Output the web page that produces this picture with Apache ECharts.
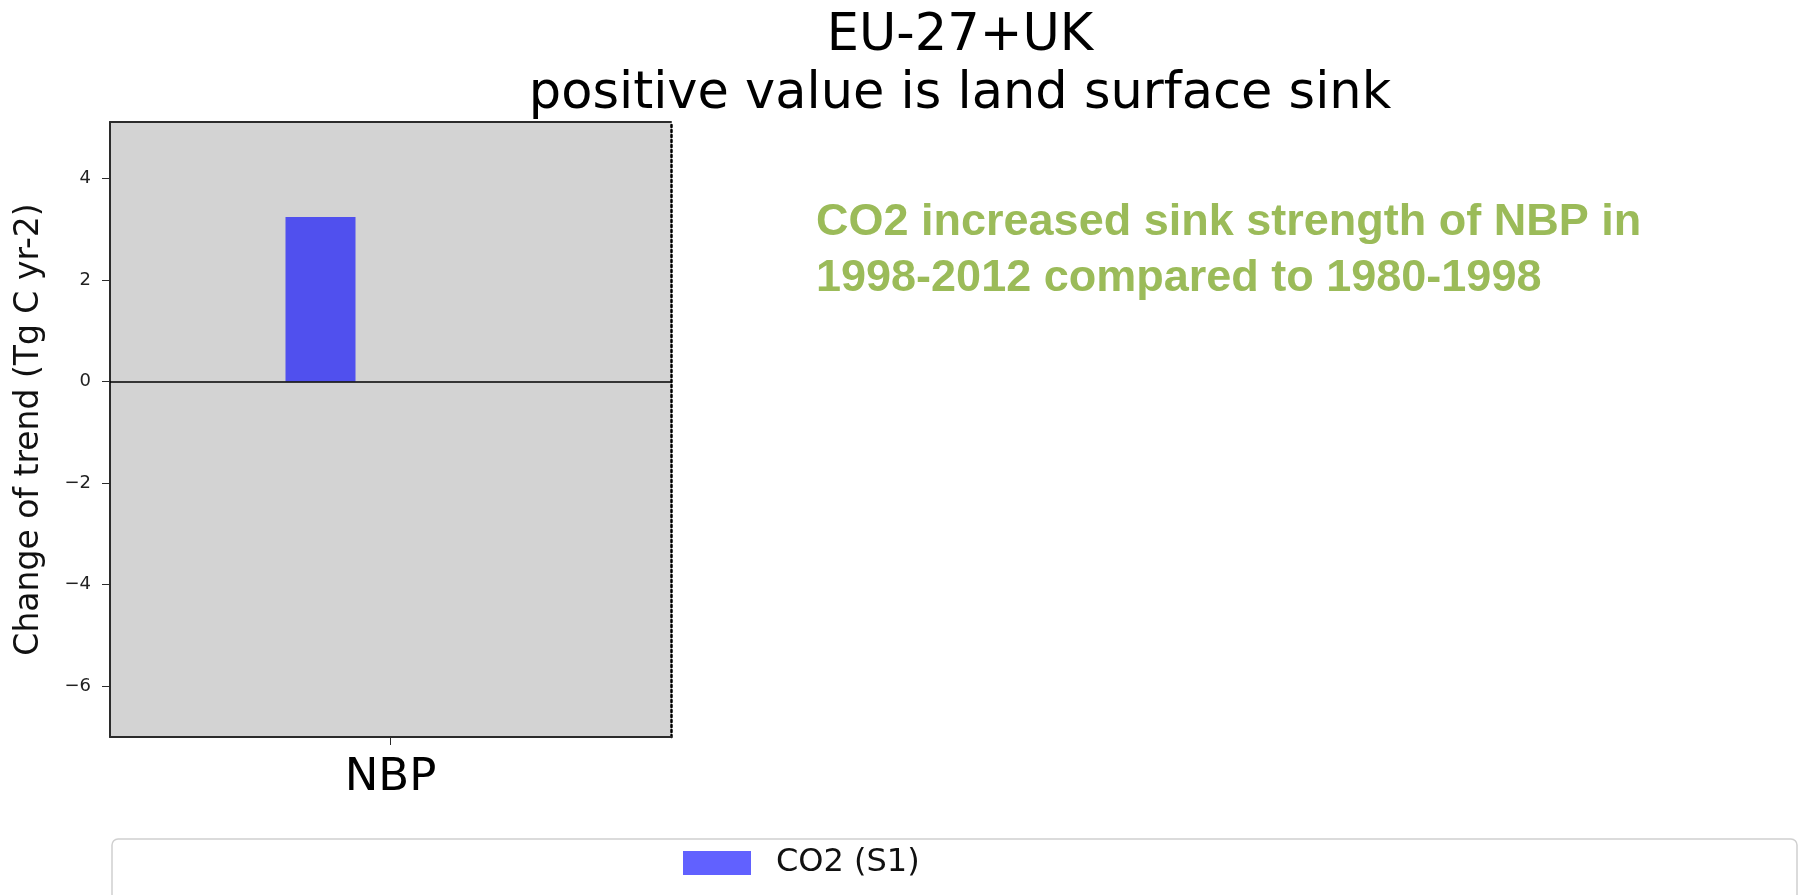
<!DOCTYPE html>
<html>
<head>
<meta charset="utf-8">
<title>EU-27+UK NBP trend change</title>
<script src="https://cdn.jsdelivr.net/npm/echarts/dist/echarts.min.js"></script>
<style>
  html, body { margin: 0; padding: 0; background: #fff; }
  #chart { width: 1804px; height: 895px; }
</style>
</head>
<body>
<div id="chart"></div>
<script>
// values
const categories = ['NBP'];
const co2S1 = [3.24];
// the figure reserves room for two more bar slots next to S1 (empty here)
const emptySlot = [null];
const yMin = -7;
const yMax = 5.11;

const titleText = 'EU-27+UK\npositive value is land surface sink';
const noteText = 'CO2 increased sink strength of NBP in\n1998-2012 compared to 1980-1998';

const font = 'DejaVu Sans';
const axisColor = '#2b2b2b';

// unicode minus like matplotlib
function tickFmt(v) {
  return v < 0 ? '\u2212' + Math.abs(v) : String(v);
}

const chart = echarts.init(document.getElementById('chart'));

const option = {
  animation: false,
  backgroundColor: '#fff',
  title: [
    {
      text: titleText,
      left: 955,
      top: 3,
      textAlign: 'center',
      textStyle: {
        fontFamily: font,
        fontSize: 51,
        fontWeight: 'normal',
        lineHeight: 58,
        color: '#000',
      },
    },
    {
      text: noteText,
      left: 811,
      top: 190,
      textStyle: {
        fontFamily: 'Liberation Sans',
        fontSize: 45,
        fontWeight: 'bold',
        lineHeight: 56,
        color: '#9bbb59',
      },
    },
  ],
  // legend frame (matplotlib legend box, wider than its single entry)
  graphic: [
    {
      type: 'rect',
      z: 0,
      shape: { x: 112, y: 839, width: 1685, height: 90, r: 6 },
      style: { fill: '#fff', stroke: '#d0d0d0', lineWidth: 1.5 },
    },
  ],
  legend: {
    data: ['CO2 (S1)'],
    left: 683,
    top: 847,
    z: 10,
    icon: 'rect',
    itemWidth: 68,
    itemHeight: 24,
    padding: 0,
    textStyle: {
      fontFamily: font,
      fontSize: 32,
      color: '#111',
      padding: [0, 0, 0, 20],
    },
  },
  grid: {
    left: 110,
    top: 122,
    right: 1133,
    bottom: 158,
    show: true,
    backgroundColor: '#d3d3d3',
    borderWidth: 0,
  },
  xAxis: [
    {
      type: 'category',
      data: categories,
      position: 'bottom',
      axisLine: { show: true, onZero: false, lineStyle: { color: axisColor, width: 2 } },
      axisTick: { show: true, alignWithLabel: true, length: 8, lineStyle: { color: axisColor } },
      axisLabel: { fontFamily: font, fontSize: 45, color: '#000', margin: 19 },
      splitLine: { show: false },
    },
    {
      // top border of the axes box
      type: 'category',
      data: categories,
      position: 'top',
      axisLine: { show: true, onZero: false, lineStyle: { color: axisColor, width: 2 } },
      axisTick: { show: false },
      axisLabel: { show: false },
      splitLine: { show: false },
    },
  ],
  yAxis: [
    {
      type: 'value',
      min: yMin,
      max: yMax,
      splitNumber: 6,
      name: 'Change of trend (Tg C yr-2)',
      nameLocation: 'middle',
      nameRotate: 90,
      nameGap: 64,
      nameTextStyle: { fontFamily: font, fontSize: 33, color: '#111' },
      axisLine: { show: true, onZero: false, lineStyle: { color: axisColor, width: 2 } },
      axisTick: { show: true, length: 8, lineStyle: { color: axisColor } },
      axisLabel: {
        fontFamily: font,
        fontSize: 18,
        color: '#222',
        margin: 19,
        showMinLabel: false,
        showMaxLabel: false,
        formatter: tickFmt,
      },
      splitLine: { show: false },
    },
    {
      // dotted right border
      type: 'value',
      min: yMin,
      max: yMax,
      position: 'right',
      axisLine: { show: true, onZero: false, lineStyle: { color: '#000', width: 2.5, type: [2, 3] } },
      axisTick: { show: false },
      axisLabel: { show: false },
      splitLine: { show: false },
    },
  ],
  series: [
    {
      name: 'CO2 (S1)',
      type: 'bar',
      data: co2S1,
      barWidth: 70,
      barGap: '0%',
      itemStyle: { color: 'rgba(0,0,255,0.62)' },
      markLine: {
        silent: true,
        symbol: 'none',
        label: { show: false },
        lineStyle: { color: '#000', width: 1.5, type: 'solid' },
        data: [{ yAxis: 0 }],
      },
    },
    { name: 'slot 2', type: 'bar', data: emptySlot, barWidth: 70, barGap: '0%' },
    { name: 'slot 3', type: 'bar', data: emptySlot, barWidth: 70, barGap: '0%' },
  ],
};

chart.setOption(option);
</script>
</body>
</html>
